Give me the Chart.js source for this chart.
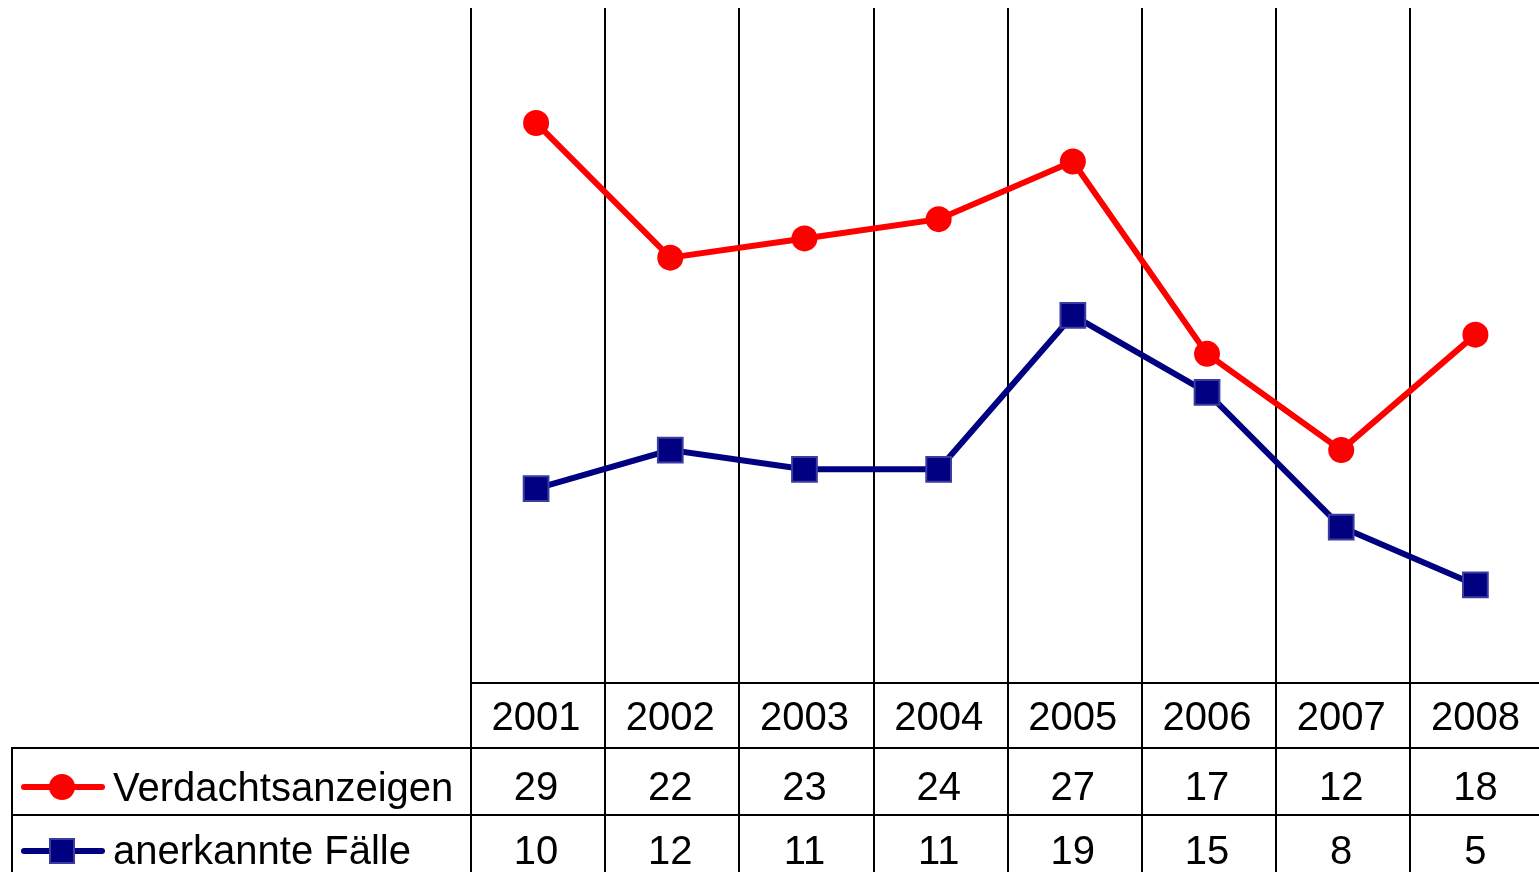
<!DOCTYPE html>
<html>
<head>
<meta charset="utf-8">
<script src="https://cdn.jsdelivr.net/npm/chart.js@4/dist/chart.umd.min.js"></script>
<style>
  html, body { margin: 0; padding: 0; background: #fff; overflow: hidden; }
  #wrap { position: relative; width: 1539px; height: 872px; overflow: hidden; }
  #c { position: absolute; left: 0; top: -12px; }
</style>
</head>
<body>
<div id="wrap"><canvas id="c" width="1562" height="884"></canvas></div>
<script>
// Daten
const jahre = ['2001', '2002', '2003', '2004', '2005', '2006', '2007', '2008'];
const verdachtsanzeigen = [29, 22, 23, 24, 27, 17, 12, 18];
const anerkannteFaelle = [10, 12, 11, 11, 19, 15, 8, 5];
const serienNamen = ['Verdachtsanzeigen', 'anerkannte Fälle'];

const ROT = '#ff0000', BLAU = '#000080', BLAU_RAND = '#3c3ca0';
const FONT = '40px "Liberation Sans", Arial, sans-serif';
const DY = 12; // Canvas ist um 12px nach oben verschoben

// ─── Gitter + Datentabelle ───────────────────────────────────────────────────
const tabelle = {
  id: 'tabelle',
  beforeDatasetsDraw(chart) {
    const ctx = chart.ctx, x = chart.scales.x;
    const step = x.getPixelForValue(1) - x.getPixelForValue(0);
    ctx.save();
    ctx.strokeStyle = '#000';
    ctx.lineWidth = 2;
    for (let i = 0; i < jahre.length; i++) {
      const bx = Math.round(x.getPixelForValue(i) - step / 2) + 2;
      ctx.beginPath(); ctx.moveTo(bx, 8 + DY); ctx.lineTo(bx, 872 + DY); ctx.stroke();
    }
    ctx.restore();
  },
  afterDraw(chart) {
    const ctx = chart.ctx, x = chart.scales.x;
    const right = chart.width;
    ctx.save();
    ctx.translate(0, DY);
    ctx.strokeStyle = '#000';
    ctx.lineWidth = 2;
    const hl = (y, x0) => { ctx.beginPath(); ctx.moveTo(x0, y); ctx.lineTo(right, y); ctx.stroke(); };
    hl(683, 471); hl(748, 11); hl(815, 11);
    ctx.beginPath(); ctx.moveTo(12, 748); ctx.lineTo(12, 872); ctx.stroke();

    ctx.fillStyle = '#000';
    ctx.font = FONT;
    ctx.textAlign = 'center';
    ctx.textBaseline = 'middle';
    jahre.forEach((j, i) => {
      const cx = x.getPixelForValue(i);
      ctx.fillText(j, cx, 719);
      ctx.fillText(String(verdachtsanzeigen[i]), cx, 789);
      ctx.fillText(String(anerkannteFaelle[i]), cx, 853);
    });

    // Legendenschluessel
    ctx.textAlign = 'left';
    ctx.lineCap = 'round';
    ctx.lineWidth = 6;
    ctx.strokeStyle = ROT;
    ctx.beginPath(); ctx.moveTo(24, 787); ctx.lineTo(102, 787); ctx.stroke();
    ctx.fillStyle = ROT;
    ctx.beginPath(); ctx.arc(62, 787, 13, 0, Math.PI * 2); ctx.fill();
    ctx.strokeStyle = BLAU;
    ctx.beginPath(); ctx.moveTo(24, 851); ctx.lineTo(102, 851); ctx.stroke();
    ctx.fillStyle = BLAU;
    ctx.fillRect(50, 839, 24, 24);
    ctx.lineWidth = 2; ctx.strokeStyle = BLAU_RAND;
    ctx.strokeRect(50, 839, 24, 24);

    ctx.fillStyle = '#000';
    ctx.fillText(serienNamen[0], 113, 790);
    ctx.fillText(serienNamen[1], 113, 853);
    ctx.restore();
  }
};

new Chart(document.getElementById('c'), {
  type: 'line',
  data: {
    labels: jahre,
    datasets: [
      {
        label: serienNamen[0],
        data: verdachtsanzeigen,
        borderColor: ROT,
        backgroundColor: ROT,
        borderWidth: 6,
        pointStyle: 'circle',
        pointRadius: 13,
        pointBorderWidth: 0,
        pointBackgroundColor: ROT,
        tension: 0
      },
      {
        label: serienNamen[1],
        data: anerkannteFaelle,
        borderColor: BLAU,
        backgroundColor: BLAU,
        borderWidth: 6,
        pointStyle: 'rect',
        pointRadius: 17.5,
        pointBorderWidth: 2,
        pointBorderColor: BLAU_RAND,
        pointBackgroundColor: BLAU,
        tension: 0
      }
    ]
  },
  options: {
    responsive: false,
    animation: false,
    layout: { padding: { left: 469, right: 18, top: 18, bottom: 191 } },
    plugins: { legend: { display: false }, tooltip: { enabled: false } },
    scales: {
      x: { display: false, offset: true },
      y: { display: false, min: 0, max: 35 }
    }
  },
  plugins: [tabelle]
});
</script>
</body>
</html>
